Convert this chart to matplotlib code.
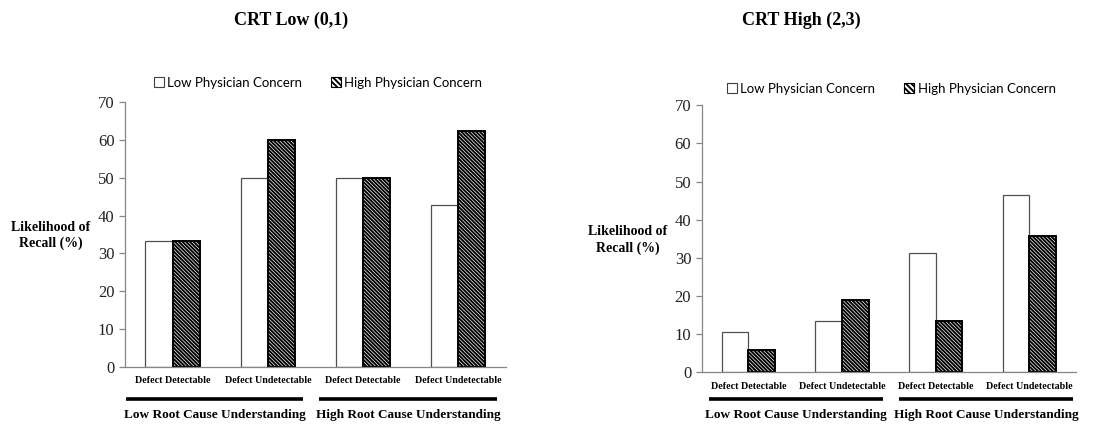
import matplotlib
matplotlib.use('Agg')
import matplotlib.pyplot as plt
from matplotlib.patches import Patch
import numpy as np

categories = ['Defect Detectable', 'Defect Undetectable', 'Defect Detectable', 'Defect Undetectable']
groups = ['Low Root Cause Understanding', 'High Root Cause Understanding']
series_names = ['Low Physician Concern', 'High Physician Concern']
panel_titles = ['CRT Low (0,1)', 'CRT High (2,3)']

crt_low_low = [33.3, 50.0, 50.0, 42.9]
crt_low_high = [33.3, 60.0, 50.0, 62.5]
crt_high_low = [10.5, 13.3, 31.3, 46.5]
crt_high_high = [5.9, 18.9, 13.3, 35.8]

serif = 'Liberation Serif'
sans = 'Lato'
plt.rcParams['hatch.linewidth'] = 1.4
axis_grey = '#868686'

fig = plt.figure(figsize=(10.98, 4.24), dpi=100)

# layout for each panel: axes rect, legend y, label ys, group line extents, ylabel pos, title pos
panels = [
    dict(rect=[0.1138, 0.135, 0.347, 0.6236], low=crt_low_low, high=crt_low_high,
         leg_y=1.074, cat_y=-0.053, line_y=-0.122, grp_y=-0.183,
         lines=[(-0.49, 1.369), (1.537, 3.405)], ylab=(0.046, 0.445), title=(0.265, 0.952)),
    dict(rect=[0.639, 0.1226, 0.341, 0.629], low=crt_high_low, high=crt_high_high,
         leg_y=1.062, cat_y=-0.0525, line_y=-0.101, grp_y=-0.161,
         lines=[(-0.42, 1.436), (1.607, 3.467)], ylab=(0.572, 0.434), title=(0.73, 0.952)),
]

x = np.arange(len(categories))
w = 0.285

for p, title in zip(panels, panel_titles):
    ax = fig.add_axes(p['rect'])
    ax.bar(x - w / 2, p['low'], w, color='white', edgecolor='#505050', linewidth=0.9)
    ax.bar(x + w / 2, p['high'], w, color='white', edgecolor='black', linewidth=1.4,
           hatch='\\' * 9)
    ax.set_xlim(-0.5, len(categories) - 0.5)
    ax.set_ylim(0, 70)
    ax.set_yticks(range(0, 71, 10))
    ax.set_xticks([])
    for s in ['top', 'right']:
        ax.spines[s].set_visible(False)
    for s in ['left', 'bottom']:
        ax.spines[s].set_color(axis_grey)
        ax.spines[s].set_linewidth(0.9)
    ax.tick_params(axis='y', colors=axis_grey, length=4, width=0.9, labelcolor='#222222')
    for lab in ax.get_yticklabels():
        lab.set_fontfamily(serif)
        lab.set_fontsize(12)

    tr = ax.get_xaxis_transform()
    for xi, c in zip(x, categories):
        ax.text(xi, p['cat_y'], c, transform=tr, ha='center', va='center',
                family=serif, fontweight='bold', fontsize=7.2, clip_on=False)
    for (x0, x1), g in zip(p['lines'], groups):
        ax.plot([x0, x1], [p['line_y'], p['line_y']], transform=tr, color='black',
                lw=2.6, clip_on=False, solid_capstyle='butt')
        ax.text((x0 + x1) / 2, p['grp_y'], g, transform=tr, ha='center', va='center',
                family=serif, fontweight='bold', fontsize=9.5, clip_on=False)

    handles = [Patch(facecolor='white', edgecolor='#404040', linewidth=0.8),
               Patch(facecolor='white', edgecolor='black', linewidth=0.8, hatch='\\' * 6)]
    ax.legend(handles, series_names, loc='center', bbox_to_anchor=(0.507, p['leg_y']),
              ncol=2, frameon=False, handlelength=0.75, handleheight=0.75,
              handletextpad=0.25, columnspacing=2.2,
              prop={'family': sans, 'size': 9.5})

    fig.text(p['ylab'][0], p['ylab'][1], 'Likelihood of\nRecall (%)', ha='center', va='center',
             family=serif, fontweight='bold', fontsize=10, linespacing=1.3)
    fig.text(p['title'][0], p['title'][1], title, ha='center', va='center',
             family=serif, fontweight='bold', fontsize=13)

fig.savefig('out.png', dpi=100)
